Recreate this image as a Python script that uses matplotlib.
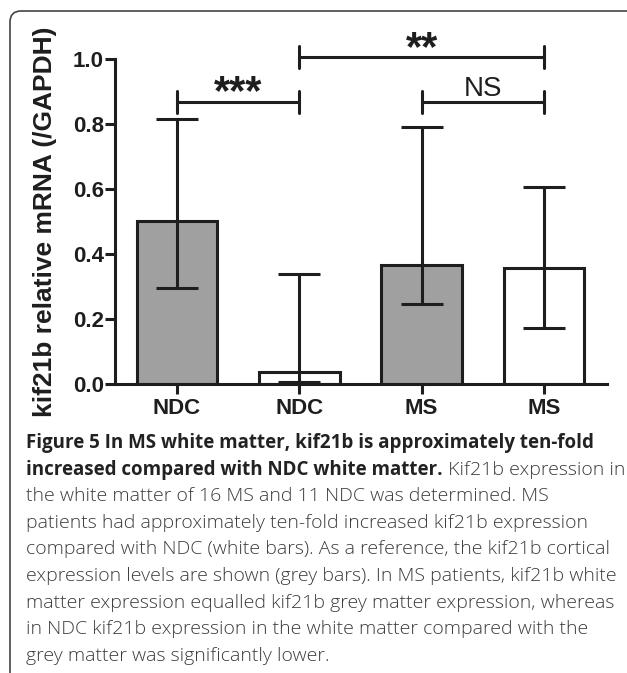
import matplotlib
matplotlib.use('Agg')
import matplotlib.pyplot as plt
from matplotlib.path import Path
from matplotlib.patches import PathPatch

# ---------------- data ----------------
groups = ['NDC', 'NDC', 'MS', 'MS']
medians = [0.503, 0.037, 0.366, 0.356]
err_low = [0.294, 0.005, 0.245, 0.172]
err_high = [0.816, 0.337, 0.790, 0.605]
fills = ['#a0a0a0', 'white', '#a0a0a0', 'white']

# significance brackets: (from, to, height, label)
brackets = [(0, 1, 0.868, '***'), (1, 3, 1.006, '**'), (2, 3, 0.868, 'NS')]

yticks = [0.0, 0.2, 0.4, 0.6, 0.8, 1.0]
ylabel = 'kif21b relative mRNA (/GAPDH)'

caption_bold_1 = 'Figure 5 In MS white matter, kif21b is approximately ten-fold'
caption_bold_2 = 'increased compared with NDC white matter.'
caption_rest_2 = ' Kif21b expression in'
caption_lines = ['the white matter of 16 MS and 11 NDC was determined. MS',
                 'patients had approximately ten-fold increased kif21b expression',
                 'compared with NDC (white bars). As a reference, the kif21b cortical',
                 'expression levels are shown (grey bars). In MS patients, kif21b white',
                 'matter expression equalled kif21b grey matter expression, whereas',
                 'in NDC kif21b expression in the white matter compared with the',
                 'grey matter was significantly lower.']

W, H = 627, 673
fig = plt.figure(figsize=(W / 100, H / 100), dpi=100)

# ---------------- frame ----------------
r = 11
verts = [(10, H), (10, 11 + r), (10, 11), (10 + r, 11), (W, 11)]
codes = [Path.MOVETO, Path.LINETO, Path.CURVE3, Path.CURVE3, Path.LINETO]
verts = [(x / W, 1 - y / H) for x, y in verts]
fig.patches.append(PathPatch(Path(verts, codes), transform=fig.transFigure,
                             fill=False, edgecolor='#444444', linewidth=1.2))

# ---------------- chart ----------------
ax = fig.add_axes([115 / W, 1 - 384 / H, (607 - 115) / W, (384 - 59) / H])
x = list(range(len(groups)))
lw = 2.2
ink = '#1e1e1e'

ax.bar(x, medians, width=0.66, color=fills, edgecolor=ink, linewidth=lw, zorder=2)
yerr = [[m - lo for m, lo in zip(medians, err_low)],
        [hi - m for m, hi in zip(medians, err_high)]]
ax.errorbar(x, medians, yerr=yerr, fmt='none', ecolor=ink, elinewidth=lw,
            capsize=15, capthick=lw, zorder=3)

ax.set_xlim(-0.507, 3.516)
ax.set_ylim(0, 1.0)
ax.set_yticks(yticks)
ax.set_yticklabels(['%.1f' % v for v in yticks])
ax.set_xticks(x)
ax.set_xticklabels(groups)

for s in ['top', 'right']:
    ax.spines[s].set_visible(False)
for s in ['left', 'bottom']:
    ax.spines[s].set_linewidth(lw)
    ax.spines[s].set_color(ink)
ax.tick_params(width=lw, length=7, color=ink, direction='out')
ax.tick_params(axis='y', pad=1)
ax.tick_params(axis='x', pad=3)
for lab in ax.get_xticklabels() + ax.get_yticklabels():
    lab.set_fontfamily('Liberation Sans')
    lab.set_fontweight('bold')
    lab.set_fontsize(16)
    lab.set_color(ink)

fig.text(45 / W, 1 - 222 / H, ylabel, rotation=90, ha='center', va='center',
         family='Liberation Sans', fontweight='bold', fontsize=19, color=ink)

# brackets
tick_h = 0.034
for a, b, h, lab in brackets:
    ax.plot([a, b], [h, h], color=ink, lw=lw, clip_on=False, solid_capstyle='butt')
    for xe in (a, b):
        ax.plot([xe, xe], [h - tick_h, h + tick_h], color=ink, lw=lw,
                clip_on=False, solid_capstyle='round')
    xm = (a + b) / 2
    if lab == 'NS':
        ax.text(xm, h + 0.019, lab, ha='center', va='baseline',
                family='Liberation Sans', fontsize=20, color=ink, clip_on=False)
    else:
        ax.text(xm, h - 0.008, lab, ha='center', va='baseline',
                family='Liberation Sans', fontweight='bold', fontsize=30,
                color=ink, clip_on=False)

# ---------------- caption ----------------
cx = 26 / W
base0 = 448
step = 26.6
cap_font = 'Open Sans'
bold_size = 13.5
reg_size = 14
fig.text(cx, 1 - base0 / H, caption_bold_1, ha='left', va='baseline',
         family=cap_font, fontweight='bold', fontsize=bold_size, color='#222222')
t2 = fig.text(cx, 1 - (base0 + step) / H, caption_bold_2, ha='left', va='baseline',
              family=cap_font, fontweight='bold', fontsize=bold_size, color='#222222')
renderer = fig.canvas.get_renderer()
bb = t2.get_window_extent(renderer=renderer)
fig.text(bb.x1 / fig.bbox.width, 1 - (base0 + step) / H, caption_rest_2, ha='left',
         va='baseline', family=cap_font, fontweight='light', fontsize=reg_size,
         color='#3c3c3c')
for i, line in enumerate(caption_lines):
    fig.text(cx, 1 - (base0 + step * (i + 2)) / H, line, ha='left', va='baseline',
             family=cap_font, fontweight='light', fontsize=reg_size, color='#3c3c3c')

plt.savefig('out.png', dpi=100)
